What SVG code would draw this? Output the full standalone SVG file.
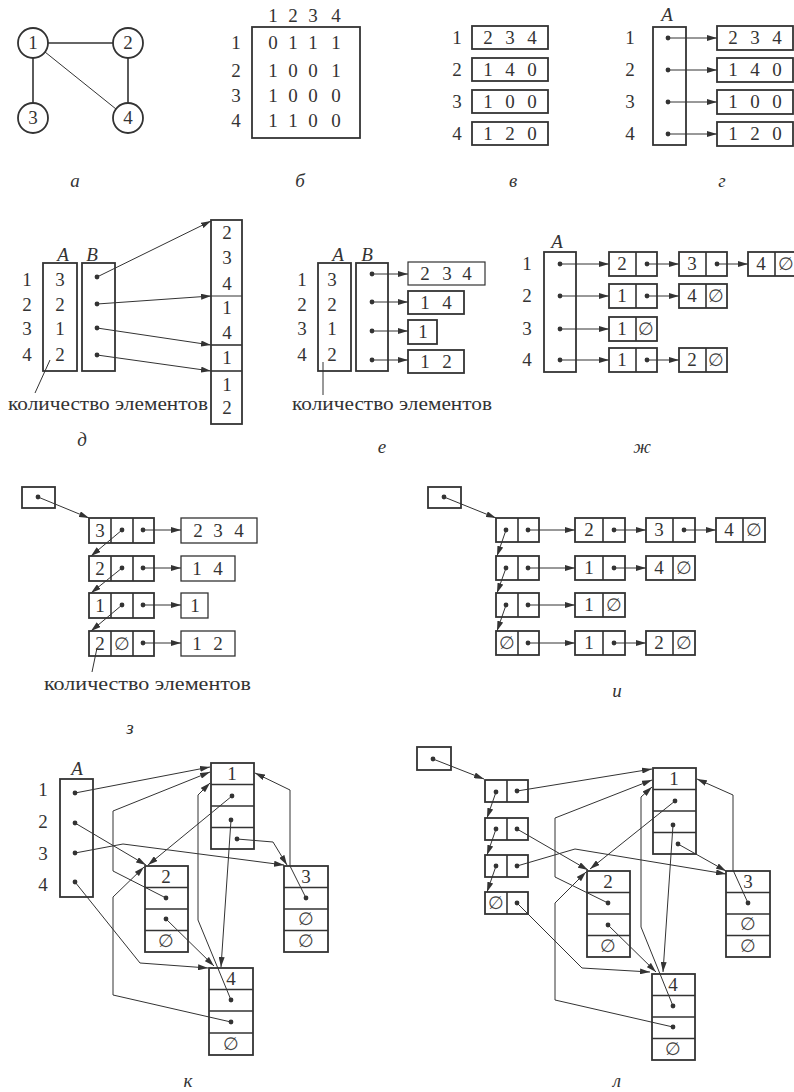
<svg xmlns="http://www.w3.org/2000/svg" width="794" height="1092" viewBox="0 0 794 1092">
<defs>
<marker id="arr" markerUnits="userSpaceOnUse" markerWidth="10" markerHeight="6" refX="10" refY="3" orient="auto"><path d="M0,0 L10,3 L0,6 z" fill="#333"/></marker>
<marker id="dot" markerUnits="userSpaceOnUse" markerWidth="6" markerHeight="6" refX="3" refY="3"><circle cx="3" cy="3" r="2.4" fill="#333"/></marker>
<style>
.b{fill:#fff;stroke:#333;stroke-width:1.8}
.l{fill:none;stroke:#333;stroke-width:1}
.m{fill:none;stroke:#333;stroke-width:1.6}
.c{fill:none;stroke:#333;stroke-width:1;marker-start:url(#dot);marker-end:url(#arr)}
text{font-family:"Liberation Serif","DejaVu Serif",serif;font-size:19px;fill:#333;text-anchor:middle}
.i{font-style:italic}
.e{font-family:"DejaVu Serif",serif;font-size:18px;fill:#444}
.s{text-anchor:start;font-size:19px}
</style>
</defs>
<rect width="794" height="1092" fill="#fff"/>

<!-- а -->
<g id="fig-a">
<g id="a-edges">
<line class="m" x1="48" y1="43" x2="113" y2="43"/>
<line class="m" x1="33" y1="58" x2="33" y2="103"/>
<line class="m" x1="128" y1="58" x2="128" y2="103"/>
<line class="l" x1="45" y1="52" x2="116" y2="109"/>
</g>
<g id="a-n1"><circle class="b" cx="33" cy="43" r="15"/><text x="33" y="49">1</text></g>
<g id="a-n2"><circle class="b" cx="128" cy="43" r="15"/><text x="128" y="49">2</text></g>
<g id="a-n3"><circle class="b" cx="33" cy="118" r="15"/><text x="33" y="124">3</text></g>
<g id="a-n4"><circle class="b" cx="128" cy="118" r="15"/><text x="128" y="124">4</text></g>
<text class="i" x="75" y="187">а</text>
</g>

<!-- б -->
<g id="fig-b">
<rect class="b" x="252" y="27" width="108" height="111" fill="none"/>
<text x="273 293 313 336" y="22">1234</text>
<text x="236" y="49">1</text><text x="236" y="77">2</text><text x="236" y="102">3</text><text x="236" y="127">4</text>
<text x="273 293 313 336" y="49">0111</text>
<text x="273 293 313 336" y="77">1001</text>
<text x="273 293 313 336" y="102">1000</text>
<text x="273 293 313 336" y="127">1100</text>
<text class="i" x="300" y="187">б</text>
</g>

<!-- в -->
<g id="fig-v">
<text x="457" y="44">1</text><text x="457" y="76">2</text><text x="457" y="108">3</text><text x="457" y="140">4</text>
<g id="v-r1"><rect class="b" x="472" y="26" width="76" height="23"/><text x="488 510 532" y="44">234</text></g>
<g id="v-r2"><rect class="b" x="472" y="58" width="76" height="23"/><text x="488 510 532" y="76">140</text></g>
<g id="v-r3"><rect class="b" x="472" y="90" width="76" height="23"/><text x="488 510 532" y="108">100</text></g>
<g id="v-r4"><rect class="b" x="472" y="122" width="76" height="23"/><text x="488 510 532" y="140">120</text></g>
<text class="i" x="513" y="187">в</text>
</g>

<!-- г -->
<g id="fig-g">
<text class="i" x="667" y="21">A</text>
<g id="g-A"><rect class="b" x="653" y="27" width="33" height="118"/></g>
<text x="630" y="44">1</text><text x="630" y="76">2</text><text x="630" y="108">3</text><text x="630" y="140">4</text>
<g id="g-r1"><rect class="b" x="717" y="26" width="76" height="24"/><text x="733 755 777" y="44">234</text></g>
<g id="g-r2"><rect class="b" x="717" y="58" width="76" height="24"/><text x="733 755 777" y="76">140</text></g>
<g id="g-r3"><rect class="b" x="717" y="90" width="76" height="24"/><text x="733 755 777" y="108">100</text></g>
<g id="g-r4"><rect class="b" x="717" y="122" width="76" height="24"/><text x="733 755 777" y="140">120</text></g>
<g id="g-conn">
<path class="c" d="M668,38 L717,38"/><path class="c" d="M668,70 L717,70"/>
<path class="c" d="M668,102 L717,102"/><path class="c" d="M668,134 L717,134"/>
</g>
<text class="i" x="722" y="187">г</text>
</g>

<!-- д -->
<g id="fig-d">
<text class="i" x="63" y="261">A</text><text class="i" x="92" y="261">B</text>
<text x="27" y="286">1</text><text x="27" y="311">2</text><text x="27" y="335">3</text><text x="27" y="361">4</text>
<g id="d-A"><rect class="b" x="43" y="263" width="34" height="108"/><text x="60" y="286">3</text><text x="60" y="311">2</text><text x="60" y="335">1</text><text x="60" y="361">2</text></g>
<g id="d-B"><rect class="b" x="82" y="263" width="33" height="108"/></g>
<g id="d-col">
<rect class="b" x="211" y="220" width="31" height="204"/>
<line class="l" x1="211" y1="296" x2="242" y2="296"/>
<line class="m" x1="211" y1="345" x2="242" y2="345"/>
<line class="m" x1="211" y1="371" x2="242" y2="371"/>
<text x="227" y="239">2</text><text x="227" y="264">3</text><text x="227" y="290">4</text>
<text x="227" y="314">1</text><text x="227" y="339">4</text>
<text x="227" y="364">1</text>
<text x="227" y="391">1</text><text x="227" y="414">2</text>
</g>
<g id="d-conn">
<path class="c" d="M97,277 L211,221"/>
<path class="c" d="M97,304 L211,296"/>
<path class="c" d="M97,328 L211,345"/>
<path class="c" d="M97,355 L211,371"/>
</g>
<line class="l" x1="50" y1="360" x2="35" y2="393"/>
<text class="s" x="8" y="410" textLength="200" lengthAdjust="spacingAndGlyphs">количество элементов</text>
<text class="i" x="82" y="446">д</text>
</g>

<!-- е -->
<g id="fig-e">
<text class="i" x="338" y="261">A</text><text class="i" x="367" y="261">B</text>
<text x="302" y="286">1</text><text x="302" y="311">2</text><text x="302" y="335">3</text><text x="302" y="361">4</text>
<g id="e-A"><rect class="b" x="318" y="263" width="33" height="108"/><text x="332" y="286">3</text><text x="332" y="311">2</text><text x="332" y="335">1</text><text x="332" y="361">2</text></g>
<g id="e-B"><rect class="b" x="356" y="263" width="32" height="108"/></g>
<g id="e-r1"><rect class="b" x="408" y="262" width="77" height="23" style="stroke-width:1.2"/><text x="425 447 467" y="280">234</text></g>
<g id="e-r2"><rect class="b" x="408" y="291" width="56" height="23"/><text x="425 447" y="309">14</text></g>
<g id="e-r3"><rect class="b" x="408" y="320" width="29" height="24"/><text x="423" y="338">1</text></g>
<g id="e-r4"><rect class="b" x="408" y="350" width="56" height="23"/><text x="425 447" y="368">12</text></g>
<g id="e-conn">
<path class="c" d="M372,274 L408,274"/><path class="c" d="M372,302 L408,302"/>
<path class="c" d="M372,331 L408,331"/><path class="c" d="M372,360 L408,360"/>
</g>
<line class="l" x1="323" y1="362" x2="323" y2="395"/>
<text class="s" x="292" y="410" textLength="200" lengthAdjust="spacingAndGlyphs">количество элементов</text>
<text class="i" x="382" y="453">е</text>
</g>

<!-- ж -->
<g id="fig-zh">
<text class="i" x="557" y="248">A</text>
<g id="zh-A"><rect class="b" x="544" y="252" width="32" height="120"/></g>
<text x="527" y="270">1</text><text x="527" y="302">2</text><text x="527" y="335">3</text><text x="527" y="366">4</text>
<g id="zh-11"><rect class="b" x="609" y="252" width="48" height="24"/><line class="m" x1="636" y1="252" x2="636" y2="276"/><text x="622" y="270">2</text></g>
<g id="zh-12"><rect class="b" x="679" y="252" width="48" height="24"/><line class="m" x1="706" y1="252" x2="706" y2="276"/><text x="692" y="270">3</text></g>
<g id="zh-13"><rect class="b" x="748" y="252" width="50" height="24"/><line class="m" x1="775" y1="252" x2="775" y2="276"/><text x="761" y="270">4</text><text class="e" x="786" y="270">∅</text></g>
<g id="zh-21"><rect class="b" x="609" y="284" width="48" height="24"/><line class="m" x1="636" y1="284" x2="636" y2="308"/><text x="622" y="302">1</text></g>
<g id="zh-22"><rect class="b" x="679" y="284" width="48" height="24"/><line class="m" x1="706" y1="284" x2="706" y2="308"/><text x="692" y="302">4</text><text class="e" x="716" y="302">∅</text></g>
<g id="zh-31"><rect class="b" x="609" y="317" width="48" height="24"/><line class="m" x1="636" y1="317" x2="636" y2="341"/><text x="622" y="335">1</text><text class="e" x="646" y="335">∅</text></g>
<g id="zh-41"><rect class="b" x="609" y="348" width="48" height="24"/><line class="m" x1="636" y1="348" x2="636" y2="372"/><text x="622" y="366">1</text></g>
<g id="zh-42"><rect class="b" x="679" y="348" width="48" height="24"/><line class="m" x1="706" y1="348" x2="706" y2="372"/><text x="692" y="366">2</text><text class="e" x="716" y="366">∅</text></g>
<g id="zh-conn">
<path class="c" d="M560,264 L609,264"/><path class="c" d="M647,264 L679,264"/><path class="c" d="M717,264 L748,264"/>
<path class="c" d="M560,296 L609,296"/><path class="c" d="M647,296 L679,296"/>
<path class="c" d="M560,329 L609,329"/>
<path class="c" d="M560,360 L609,360"/><path class="c" d="M647,360 L679,360"/>
</g>
<text class="i" x="642" y="453">ж</text>
</g>

<!-- з -->
<g id="fig-z">
<g id="z-head"><rect class="b" x="22" y="487" width="33" height="21"/></g>
<g id="z-n1"><rect class="b" x="89" y="518" width="65" height="25"/><line class="m" x1="111" y1="518" x2="111" y2="543"/><line class="m" x1="133" y1="518" x2="133" y2="543"/><text x="100" y="537">3</text></g>
<g id="z-n2"><rect class="b" x="89" y="556" width="65" height="25"/><line class="m" x1="111" y1="556" x2="111" y2="581"/><line class="m" x1="133" y1="556" x2="133" y2="581"/><text x="100" y="575">2</text></g>
<g id="z-n3"><rect class="b" x="89" y="593" width="65" height="25"/><line class="m" x1="111" y1="593" x2="111" y2="618"/><line class="m" x1="133" y1="593" x2="133" y2="618"/><text x="100" y="612">1</text></g>
<g id="z-n4"><rect class="b" x="89" y="631" width="65" height="25"/><line class="m" x1="111" y1="631" x2="111" y2="656"/><line class="m" x1="133" y1="631" x2="133" y2="656"/><text x="100" y="650">2</text><text class="e" x="122" y="650">∅</text></g>
<g id="z-a1"><rect class="b" x="181" y="518" width="76" height="25" style="stroke-width:1.3"/><text x="198 218 239" y="537">234</text></g>
<g id="z-a2"><rect class="b" x="181" y="556" width="54" height="25" style="stroke-width:1.3"/><text x="197 218" y="575">14</text></g>
<g id="z-a3"><rect class="b" x="181" y="593" width="27" height="25" style="stroke-width:1.3"/><text x="195" y="612">1</text></g>
<g id="z-a4"><rect class="b" x="181" y="631" width="54" height="25" style="stroke-width:1.3"/><text x="197 218" y="650">12</text></g>
<g id="z-conn">
<path class="c" d="M38,497 L89,518"/>
<path class="c" d="M122,530 L91,556"/><path class="c" d="M122,568 L91,593"/><path class="c" d="M122,605 L91,631"/>
<path class="c" d="M143,530 L181,530"/><path class="c" d="M143,568 L181,568"/><path class="c" d="M143,605 L181,605"/><path class="c" d="M143,643 L181,643"/>
</g>
<line class="l" x1="97" y1="648" x2="92" y2="672"/>
<text class="s" x="44" y="690" textLength="207" lengthAdjust="spacingAndGlyphs">количество элементов</text>
<text class="i" x="130" y="734">з</text>
</g>

<!-- и -->
<g id="fig-i">
<g id="i-head"><rect class="b" x="428" y="487" width="33" height="21"/></g>
<g id="i-s1"><rect class="b" x="496" y="518" width="43" height="24"/><line class="m" x1="518" y1="518" x2="518" y2="542"/></g>
<g id="i-s2"><rect class="b" x="496" y="556" width="43" height="24"/><line class="m" x1="518" y1="556" x2="518" y2="580"/></g>
<g id="i-s3"><rect class="b" x="496" y="593" width="43" height="24"/><line class="m" x1="518" y1="593" x2="518" y2="617"/></g>
<g id="i-s4"><rect class="b" x="496" y="631" width="43" height="24"/><line class="m" x1="518" y1="631" x2="518" y2="655"/><text class="e" x="507" y="649">∅</text></g>
<g id="i-11"><rect class="b" x="575" y="518" width="50" height="24"/><line class="m" x1="603" y1="518" x2="603" y2="542"/><text x="589" y="536">2</text></g>
<g id="i-12"><rect class="b" x="646" y="518" width="49" height="24"/><line class="m" x1="673" y1="518" x2="673" y2="542"/><text x="659" y="536">3</text></g>
<g id="i-13"><rect class="b" x="716" y="518" width="49" height="24"/><line class="m" x1="743" y1="518" x2="743" y2="542"/><text x="729" y="536">4</text><text class="e" x="754" y="536">∅</text></g>
<g id="i-21"><rect class="b" x="575" y="556" width="50" height="24"/><line class="m" x1="603" y1="556" x2="603" y2="580"/><text x="589" y="574">1</text></g>
<g id="i-22"><rect class="b" x="646" y="556" width="49" height="24"/><line class="m" x1="673" y1="556" x2="673" y2="580"/><text x="659" y="574">4</text><text class="e" x="684" y="574">∅</text></g>
<g id="i-31"><rect class="b" x="575" y="593" width="50" height="24"/><line class="m" x1="603" y1="593" x2="603" y2="617"/><text x="589" y="611">1</text><text class="e" x="614" y="611">∅</text></g>
<g id="i-41"><rect class="b" x="575" y="631" width="50" height="24"/><line class="m" x1="603" y1="631" x2="603" y2="655"/><text x="589" y="649">1</text></g>
<g id="i-42"><rect class="b" x="646" y="631" width="49" height="24"/><line class="m" x1="673" y1="631" x2="673" y2="655"/><text x="659" y="649">2</text><text class="e" x="684" y="649">∅</text></g>
<g id="i-conn">
<path class="c" d="M444,497 L496,518"/>
<path class="c" d="M506,530 L497,556"/><path class="c" d="M506,568 L497,593"/><path class="c" d="M506,605 L497,631"/>
<path class="c" d="M528,530 L575,530"/><path class="c" d="M614,530 L646,530"/><path class="c" d="M684,530 L716,530"/>
<path class="c" d="M528,568 L575,568"/><path class="c" d="M614,568 L646,568"/>
<path class="c" d="M528,605 L575,605"/>
<path class="c" d="M528,643 L575,643"/><path class="c" d="M614,643 L646,643"/>
</g>
<text class="i" x="617" y="697">и</text>
</g>

<!-- к -->
<g id="fig-k">
<text class="i" x="77" y="775">A</text>
<g id="k-A"><rect class="b" x="60" y="779" width="33" height="118"/></g>
<text x="43" y="796">1</text><text x="43" y="828">2</text><text x="43" y="860">3</text><text x="43" y="891">4</text>
<g id="k-n1"><rect class="b" x="211" y="763" width="43" height="86"/><line class="m" x1="211" y1="784.5" x2="254" y2="784.5"/><line class="m" x1="211" y1="806" x2="254" y2="806"/><line class="m" x1="211" y1="827.5" x2="254" y2="827.5"/><text x="232" y="780">1</text></g>
<g id="k-n2"><rect class="b" x="145" y="866" width="43" height="86"/><line class="m" x1="145" y1="887.5" x2="188" y2="887.5"/><line class="m" x1="145" y1="909" x2="188" y2="909"/><line class="m" x1="145" y1="930.5" x2="188" y2="930.5"/><text x="166" y="883">2</text><text class="e" x="166" y="947">∅</text></g>
<g id="k-n3"><rect class="b" x="284" y="866" width="44" height="86"/><line class="m" x1="284" y1="887.5" x2="328" y2="887.5"/><line class="m" x1="284" y1="909" x2="328" y2="909"/><line class="m" x1="284" y1="930.5" x2="328" y2="930.5"/><text x="306" y="883">3</text><text class="e" x="306" y="925">∅</text><text class="e" x="306" y="947">∅</text></g>
<g id="k-n4"><rect class="b" x="209" y="968" width="44" height="87"/><line class="m" x1="209" y1="989.5" x2="253" y2="989.5"/><line class="m" x1="209" y1="1011" x2="253" y2="1011"/><line class="m" x1="209" y1="1033" x2="253" y2="1033"/><text x="231" y="985">4</text><text class="e" x="231" y="1050">∅</text></g>
<g id="k-conn">
<path class="c" d="M75,793 L210,767"/>
<path class="c" d="M75,823 L146,865"/>
<path class="c" d="M75,853 L123,844 L284,865"/>
<path class="c" d="M75,882 L140,963 L208,968"/>
<path class="c" d="M232,796 L148,865"/>
<path class="c" d="M231,820 L221,967"/>
<path class="c" d="M237,839 L273,842 L287,865"/>
<path class="c" d="M166,898 L113,871 L113,811 L210,772"/>
<path class="c" d="M166,919 L214,966"/>
<path class="c" d="M306,898 L290,866 L290,790 L255,773"/>
<path class="c" d="M231,1000 L198,920 L198,795 L210,783"/>
<path class="c" d="M231,1022 L113,995 L113,897 L144,867"/>
</g>
<text class="i" x="188" y="1087">к</text>
</g>

<!-- л -->
<g id="fig-l">
<g id="l-head"><rect class="b" x="417" y="747" width="34" height="23"/></g>
<g id="l-s1"><rect class="b" x="485" y="780" width="43" height="22"/><line class="m" x1="507" y1="780" x2="507" y2="802"/></g>
<g id="l-s2"><rect class="b" x="485" y="818" width="43" height="22"/><line class="m" x1="507" y1="818" x2="507" y2="840"/></g>
<g id="l-s3"><rect class="b" x="485" y="855" width="43" height="22"/><line class="m" x1="507" y1="855" x2="507" y2="877"/></g>
<g id="l-s4"><rect class="b" x="485" y="892" width="43" height="22"/><line class="m" x1="507" y1="892" x2="507" y2="914"/><text class="e" x="496" y="909">∅</text></g>
<g id="l-n1"><rect class="b" x="653" y="768" width="43" height="86"/><line class="m" x1="653" y1="789.5" x2="696" y2="789.5"/><line class="m" x1="653" y1="811" x2="696" y2="811"/><line class="m" x1="653" y1="832.5" x2="696" y2="832.5"/><text x="674" y="785">1</text></g>
<g id="l-n2"><rect class="b" x="587" y="871" width="43" height="86"/><line class="m" x1="587" y1="892.5" x2="630" y2="892.5"/><line class="m" x1="587" y1="914" x2="630" y2="914"/><line class="m" x1="587" y1="935.5" x2="630" y2="935.5"/><text x="608" y="888">2</text><text class="e" x="608" y="952">∅</text></g>
<g id="l-n3"><rect class="b" x="726" y="871" width="44" height="86"/><line class="m" x1="726" y1="892.5" x2="770" y2="892.5"/><line class="m" x1="726" y1="914" x2="770" y2="914"/><line class="m" x1="726" y1="935.5" x2="770" y2="935.5"/><text x="748" y="888">3</text><text class="e" x="748" y="930">∅</text><text class="e" x="748" y="952">∅</text></g>
<g id="l-n4"><rect class="b" x="652" y="974" width="43" height="86"/><line class="m" x1="652" y1="995.5" x2="695" y2="995.5"/><line class="m" x1="652" y1="1017" x2="695" y2="1017"/><line class="m" x1="652" y1="1038.5" x2="695" y2="1038.5"/><text x="673" y="991">4</text><text class="e" x="673" y="1055">∅</text></g>
<g id="l-conn">
<path class="c" d="M433,759 L484,779"/>
<path class="c" d="M496,792 L487,818"/><path class="c" d="M496,829 L487,855"/><path class="c" d="M496,866 L487,892"/>
<path class="c" d="M517,791 L652,769"/>
<path class="c" d="M517,829 L588,870"/>
<path class="c" d="M517,866 L575,849 L726,874"/>
<path class="c" d="M517,903 L582,968 L650,972"/>
<path class="c" d="M675,801 L590,869"/>
<path class="c" d="M673,825 L663,972"/>
<path class="c" d="M678,844 L726,871"/>
<path class="c" d="M608,903 L555,877 L555,818 L652,780"/>
<path class="c" d="M608,925 L656,972"/>
<path class="c" d="M748,903 L733,870 L733,795 L697,779"/>
<path class="c" d="M673,1006 L641,927 L641,797 L652,787"/>
<path class="c" d="M673,1027 L555,1000 L555,903 L586,872"/>
</g>
<text class="i" x="617" y="1087">л</text>
</g>
</svg>
